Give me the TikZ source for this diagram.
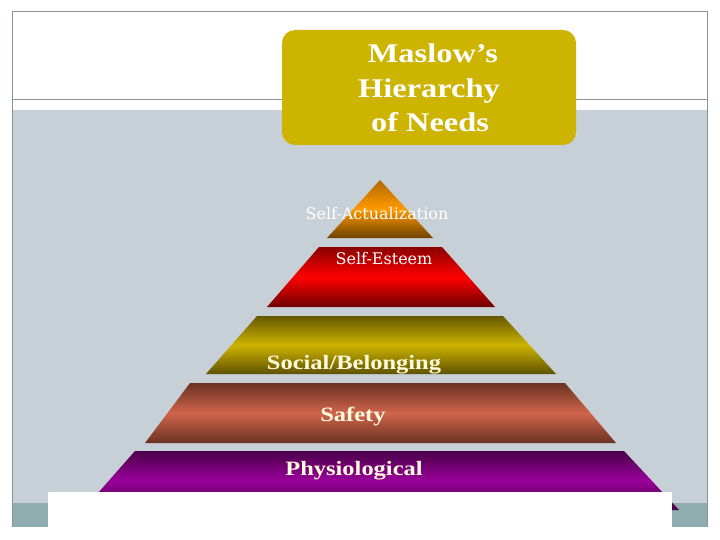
\documentclass[tikz,border=0pt]{standalone}
\usepackage{graphicx}
\usepackage{fontspec}
\setmainfont{Liberation Serif}
\newfontfamily\dvs{DejaVu Serif}
\definecolor{bgray}{HTML}{C6D0D6}
\definecolor{bteal}{HTML}{8FADAE}
\definecolor{frameline}{HTML}{8A9498}
\definecolor{gold}{HTML}{CCB400}
\definecolor{actTop}{HTML}{B06800}
\definecolor{actMid}{HTML}{FF9A00}
\definecolor{actBot}{HTML}{6E4200}
\definecolor{estTop}{HTML}{8A0000}
\definecolor{estMid}{HTML}{FF0000}
\definecolor{estBot}{HTML}{6E0000}
\definecolor{socTop}{HTML}{665800}
\definecolor{socMid}{HTML}{CCB400}
\definecolor{socBot}{HTML}{5F5200}
\definecolor{safTop}{HTML}{6A3222}
\definecolor{safMid}{HTML}{D0644C}
\definecolor{safBot}{HTML}{6A3222}
\definecolor{phyTop}{HTML}{4A004A}
\definecolor{phyMid}{HTML}{990099}
\definecolor{cream}{HTML}{FFFBDC}
\tikzset{
  frame/.style={draw=frameline, line width=1pt},
  titletxt/.style={text=white, font=\fontsize{27}{34}\selectfont\bfseries, inner sep=0pt, anchor=base},
  toplab/.style={text=white, font=\dvs\fontsize{16}{18}\selectfont, inner sep=0pt, anchor=base},
  lowlab/.style={text=cream, font=\fontsize{20.4}{24}\selectfont\bfseries, inner sep=0pt, anchor=base},
}
\begin{document}
\begin{tikzpicture}[x=1pt,y=-1pt]
\useasboundingbox (0,0) rectangle (720,540);
\fill[white] (0,0) rectangle (720,540);
\fill[bgray] (12,110) rectangle (708,527);
\fill[bteal] (12,503) rectangle (708,527);
\draw[frame] (12,527) -- (12,12) -- (707,12) -- (707,527);
\draw[frame] (12,100) -- (707,100);
% title box
\fill[gold, rounded corners=13pt] (282,30) rectangle (576,145);
\node[titletxt] (t1) at (433,63) {\scalebox{1.2}[1]{Maslow’s}};
\node[titletxt] (t2) at (429,98) {\scalebox{1.2}[1]{Hierarchy}};
\node[titletxt] (t3) at (430,132) {\scalebox{1.2}[1]{of Needs}};
% pyramid
\shade[top color=actTop, bottom color=actBot, middle color=actMid]
  (380,180) -- (433,238) -- (327,238) -- cycle;
\shade[top color=estTop, bottom color=estBot, middle color=estMid]
  (319,247) -- (442,247) -- (495,307) -- (267,307) -- cycle;
\shade[top color=socTop, bottom color=socBot, middle color=socMid]
  (257,316) -- (503,316) -- (556,374) -- (206,374) -- cycle;
\shade[top color=safTop, bottom color=safBot, middle color=safMid]
  (190,383) -- (565,383) -- (616,443) -- (145,443) -- cycle;
\shade[top color=phyTop, bottom color=phyTop, middle color=phyMid]
  (135,451) -- (624,451) -- (679,510) -- (83,510) -- cycle;
\fill[white] (48,492) rectangle (672,540);
% labels
\node[toplab] (actlab) at (377,219) {Self-Actualization};
\node[toplab] (estlab) at (384,264) {Self-Esteem};
\node[lowlab] (soclab) at (354,369) {\scalebox{1.2}[1]{Social/Belonging}};
\node[lowlab] (saflab) at (353,421) {\scalebox{1.2}[1]{Safety}};
\node[lowlab] (phylab) at (354,475) {\scalebox{1.2}[1]{Physiological}};
\end{tikzpicture}
\end{document}
